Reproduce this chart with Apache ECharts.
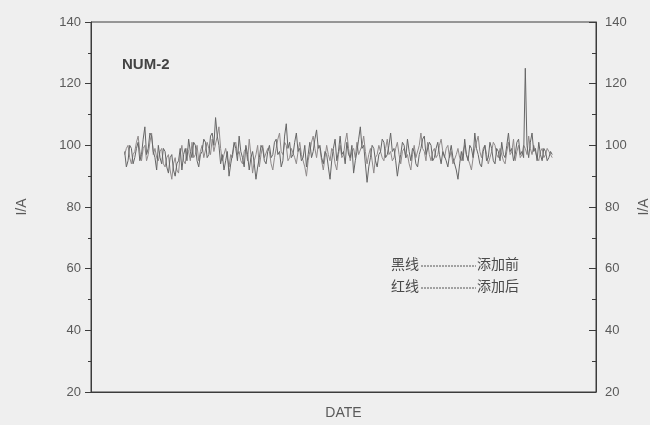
<!DOCTYPE html>
<html>
<head>
    <meta charset="utf-8">
    <title>NUM-2</title>
    <script src="https://cdn.jsdelivr.net/npm/echarts@6/dist/echarts.min.js"></script>
</head>
<body style="margin:0;background:#efefef;">
    <div id="main" style="width:650px;height:425px;"></div>
<script type="text/javascript">
    // readings, one per step
    var startStep = 20;
    var blackLine = [
        98,93, 95,100, 99,94, 96,99, 101,95, 97,102, 106,97, 99,104, 103,98, 96,92,
        100,96, 94,99, 98,93, 91,96, 97,92, 90,94, 95,99, 92,97, 99,95, 102,98,
        96,101, 100,95, 93,97, 98,102, 101,96, 97,103, 104,100, 109,103, 100,94, 97,92,
        95,98, 90,94, 97,101, 99,95, 103,98, 96,93, 100,97, 92,96, 98,94, 89,93,
        96,100, 99,95, 94,98, 100,96, 97,101, 102,97, 98,93, 95,103, 107,99, 101,96,
        97,101, 104,98, 99,95, 96,100, 93,97, 101,96, 98,102, 105,99, 100,96, 94,98,
        97,93, 89,95, 99,102, 95,98, 103,97, 98,94, 101,97, 96,100, 91,95, 98,102,
        106,99, 100,94, 88,93, 96,100, 99,95, 93,97, 98,102, 101,96, 97,100, 104,98,
        99,95, 90,94, 97,101, 100,96, 102,98, 95,99, 98,94, 93,97, 99,102, 103,97,
        97,101, 100,95, 96,99, 101,97, 94,98, 98,95, 93,97, 100,96, 96,92, 89,94,
        98,95, 102,97, 95,100, 99,96, 104,99, 97,94, 93,98, 100,95, 96,101, 99,95,
        94,99, 98,95, 101,97, 96,100, 104,98, 99,95, 97,101, 102,97, 98,96, 125,100,
        96,101, 104,98, 99,95, 101,97, 95,99, 98,95, 96,98, 97
    ];
    var redLine = [
        97,99, 100,96, 94,97, 98,101, 103,98, 95,99, 100,95, 97,101, 104,97, 99,96,
        95,98, 99,94, 93,96, 97,92, 89,94, 96,92, 91,97, 100,95, 94,99, 98,95,
        101,96, 97,100, 95,98, 100,96, 96,101, 99,97, 102,98, 98,103, 106,99, 95,97,
        99,96, 93,97, 96,100, 101,97, 98,95, 94,98, 99,95, 102,97, 91,95, 97,100,
        93,97, 100,96, 96,99, 98,94, 92,96, 99,102, 104,98, 97,101, 100,95, 96,99,
        99,96, 94,98, 101,97, 97,93, 90,95, 98,101, 103,99, 96,100, 99,95, 92,96,
        100,97, 95,99, 98,94, 92,97, 100,96, 97,101, 104,99, 95,98, 99,96, 101,97,
        97,100, 103,98, 94,97, 99,95, 91,96, 97,100, 100,96, 95,99, 102,97, 98,95,
        96,99, 101,97, 94,98, 99,96, 97,94, 92,97, 100,96, 96,100, 104,99, 98,95,
        101,97, 95,98, 99,96, 97,100, 102,98, 96,99, 100,96, 98,94, 94,97, 99,96,
        95,98, 100,97, 97,94, 92,96, 99,101, 103,98, 96,99, 100,97, 94,96, 98,101,
        100,97, 96,99, 99,95, 94,98, 101,97, 98,102, 95,98, 100,96, 97,100, 99,97,
        103,99, 97,100, 100,96, 95,98, 99,96, 97,99, 98,97, 96
    ];
    var yTicks = [20, 40, 60, 80, 100, 120, 140];

    function toPairs(arr) {
        var out = [];
        arr.forEach(function (v, i) { out.push([startStep + i, v]); });
        return out;
    }

    var myChart = echarts.init(document.getElementById('main'));
    var axisColor = '#3c3c3c';
    var labelColor = '#5a5a5a';

    var yCommon = {
        type: 'value',
        min: yTicks[0],
        max: yTicks[yTicks.length - 1],
        interval: 20,
        name: 'I/A',
        nameLocation: 'middle',
        nameTextStyle: { color: labelColor, fontSize: 14, fontFamily: 'Liberation Sans' },
        splitLine: { show: false },
        axisLine: { show: true, lineStyle: { color: axisColor } },
        minorTick: { show: true, splitNumber: 2, length: 3, lineStyle: { color: axisColor } }
    };

    var option = {
        backgroundColor: '#efefef',
        animation: false,
        title: {
            text: 'NUM-2',
            left: 117, top: 52,
            textStyle: { fontSize: 15, fontWeight: 'bold', color: '#444', fontFamily: 'Liberation Sans' }
        },
        grid: {
            left: 91, right: 54, top: 22, bottom: 33,
            outerBoundsMode: 'none',
            show: true, borderColor: axisColor, borderWidth: 1
        },
        xAxis: {
            type: 'value',
            min: 0,
            max: 300,
            name: 'DATE',
            nameLocation: 'middle',
            nameGap: 14,
            nameTextStyle: { color: labelColor, fontSize: 14, fontFamily: 'Liberation Sans' },
            axisLine: { show: true, lineStyle: { color: axisColor } },
            axisTick: { show: false },
            axisLabel: { show: false },
            splitLine: { show: false }
        },
        yAxis: [
            Object.assign({}, yCommon, {
                position: 'left',
                nameGap: 62,
                axisTick: { show: true, inside: false, length: 6, lineStyle: { color: axisColor } },
                axisLabel: { color: labelColor, fontSize: 13, margin: 10, fontFamily: 'Liberation Sans' }
            }),
            Object.assign({}, yCommon, {
                position: 'right',
                nameGap: 40,
                nameRotate: 90,
                axisTick: { show: true, inside: true, length: 7, lineStyle: { color: axisColor } },
                minorTick: { show: true, splitNumber: 2, length: 4, lineStyle: { color: axisColor } },
                axisLabel: { color: labelColor, fontSize: 13, margin: 9, fontFamily: 'Liberation Sans' }
            })
        ],
        series: [
            {
                name: '添加后',
                type: 'line',
                data: toPairs(redLine),
                showSymbol: false,
                lineStyle: { color: '#8f8a8a', width: 1 }
            },
            {
                name: '添加前',
                type: 'line',
                data: toPairs(blackLine),
                showSymbol: false,
                lineStyle: { color: '#666666', width: 1 }
            }
        ],
        graphic: [
            { type: 'text', left: 391, top: 257, style: { text: '黑线', fill: '#4a4a4a', font: '14px "Noto Sans CJK SC"' } },
            { type: 'line', shape: { x1: 421, y1: 266, x2: 476, y2: 266 }, style: { stroke: '#555', lineWidth: 1, lineDash: [2, 1] } },
            { type: 'text', left: 477, top: 257, style: { text: '添加前', fill: '#4a4a4a', font: '14px "Noto Sans CJK SC"' } },
            { type: 'text', left: 391, top: 279, style: { text: '红线', fill: '#4a4a4a', font: '14px "Noto Sans CJK SC"' } },
            { type: 'line', shape: { x1: 421, y1: 288, x2: 476, y2: 288 }, style: { stroke: '#555', lineWidth: 1, lineDash: [2, 1] } },
            { type: 'text', left: 477, top: 279, style: { text: '添加后', fill: '#4a4a4a', font: '14px "Noto Sans CJK SC"' } }
        ]
    };

    myChart.setOption(option);
</script>
</body>
</html>
